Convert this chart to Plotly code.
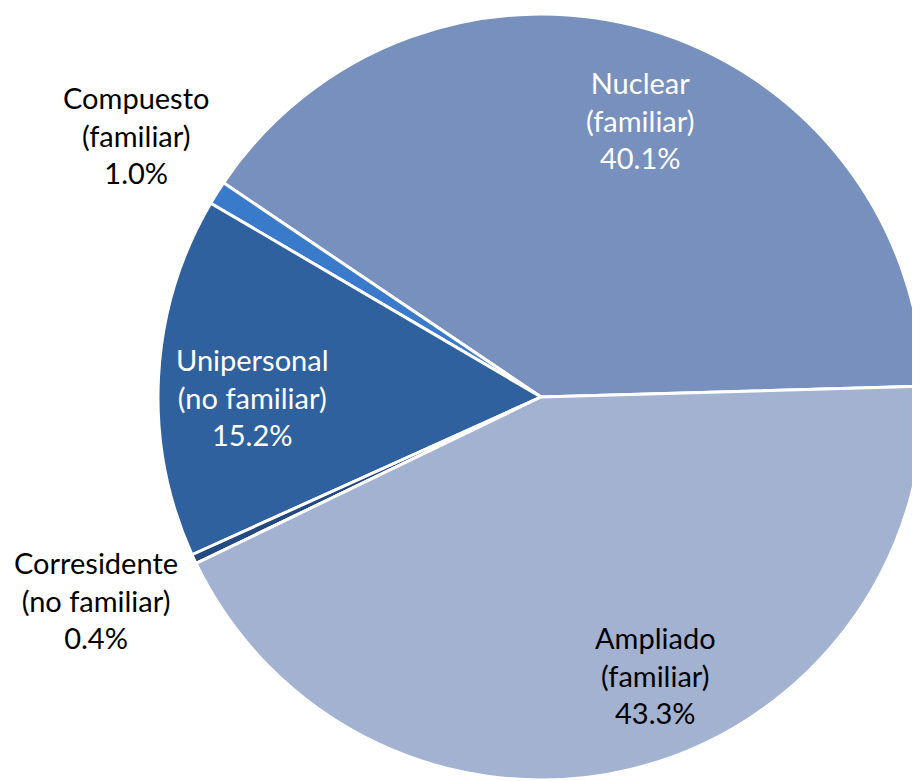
import plotly.graph_objects as go

labels = ["Nuclear<br>(familiar)", "Compuesto<br>(familiar)", "Unipersonal<br>(no familiar)",
          "Corresidente<br>(no familiar)", "Ampliado<br>(familiar)"]
values = [40.1, 1.0, 15.2, 0.4, 43.3]
colors = ["#7890bd", "#3a7acb", "#2f619f", "#24497e", "#a3b2d1"]
text_colors = ["white", "black", "white", "black", "black"]

# label centres in paper coords (page has an 8px body offset)
label_pos = [(0.688, 0.856), (0.139, 0.837), (0.266, 0.502), (0.0957, 0.242), (0.704, 0.146)]

fig = go.Figure(go.Pie(
    labels=labels,
    values=values,
    textinfo="none",
    marker=dict(colors=colors, line=dict(color="white", width=3)),
    sort=False,
    direction="counterclockwise",
    rotation=-56,
    showlegend=False,
    domain=dict(x=[0.163, 0.9957], y=[0.0115, 0.9923]),
))

for lab, v, col, (px_, py_) in zip(labels, values, text_colors, label_pos):
    fig.add_annotation(x=px_, y=py_, xref="paper", yref="paper",
                       xanchor="center", yanchor="middle",
                       text=f"{lab}<br>{v:.1f}%", showarrow=False,
                       font=dict(size=29, family="Lato", color=col), align="center")

fig.update_layout(width=920, height=781, margin=dict(l=0, r=0, t=0, b=0),
                  paper_bgcolor="white", plot_bgcolor="white")
fig.write_html("out.html")
